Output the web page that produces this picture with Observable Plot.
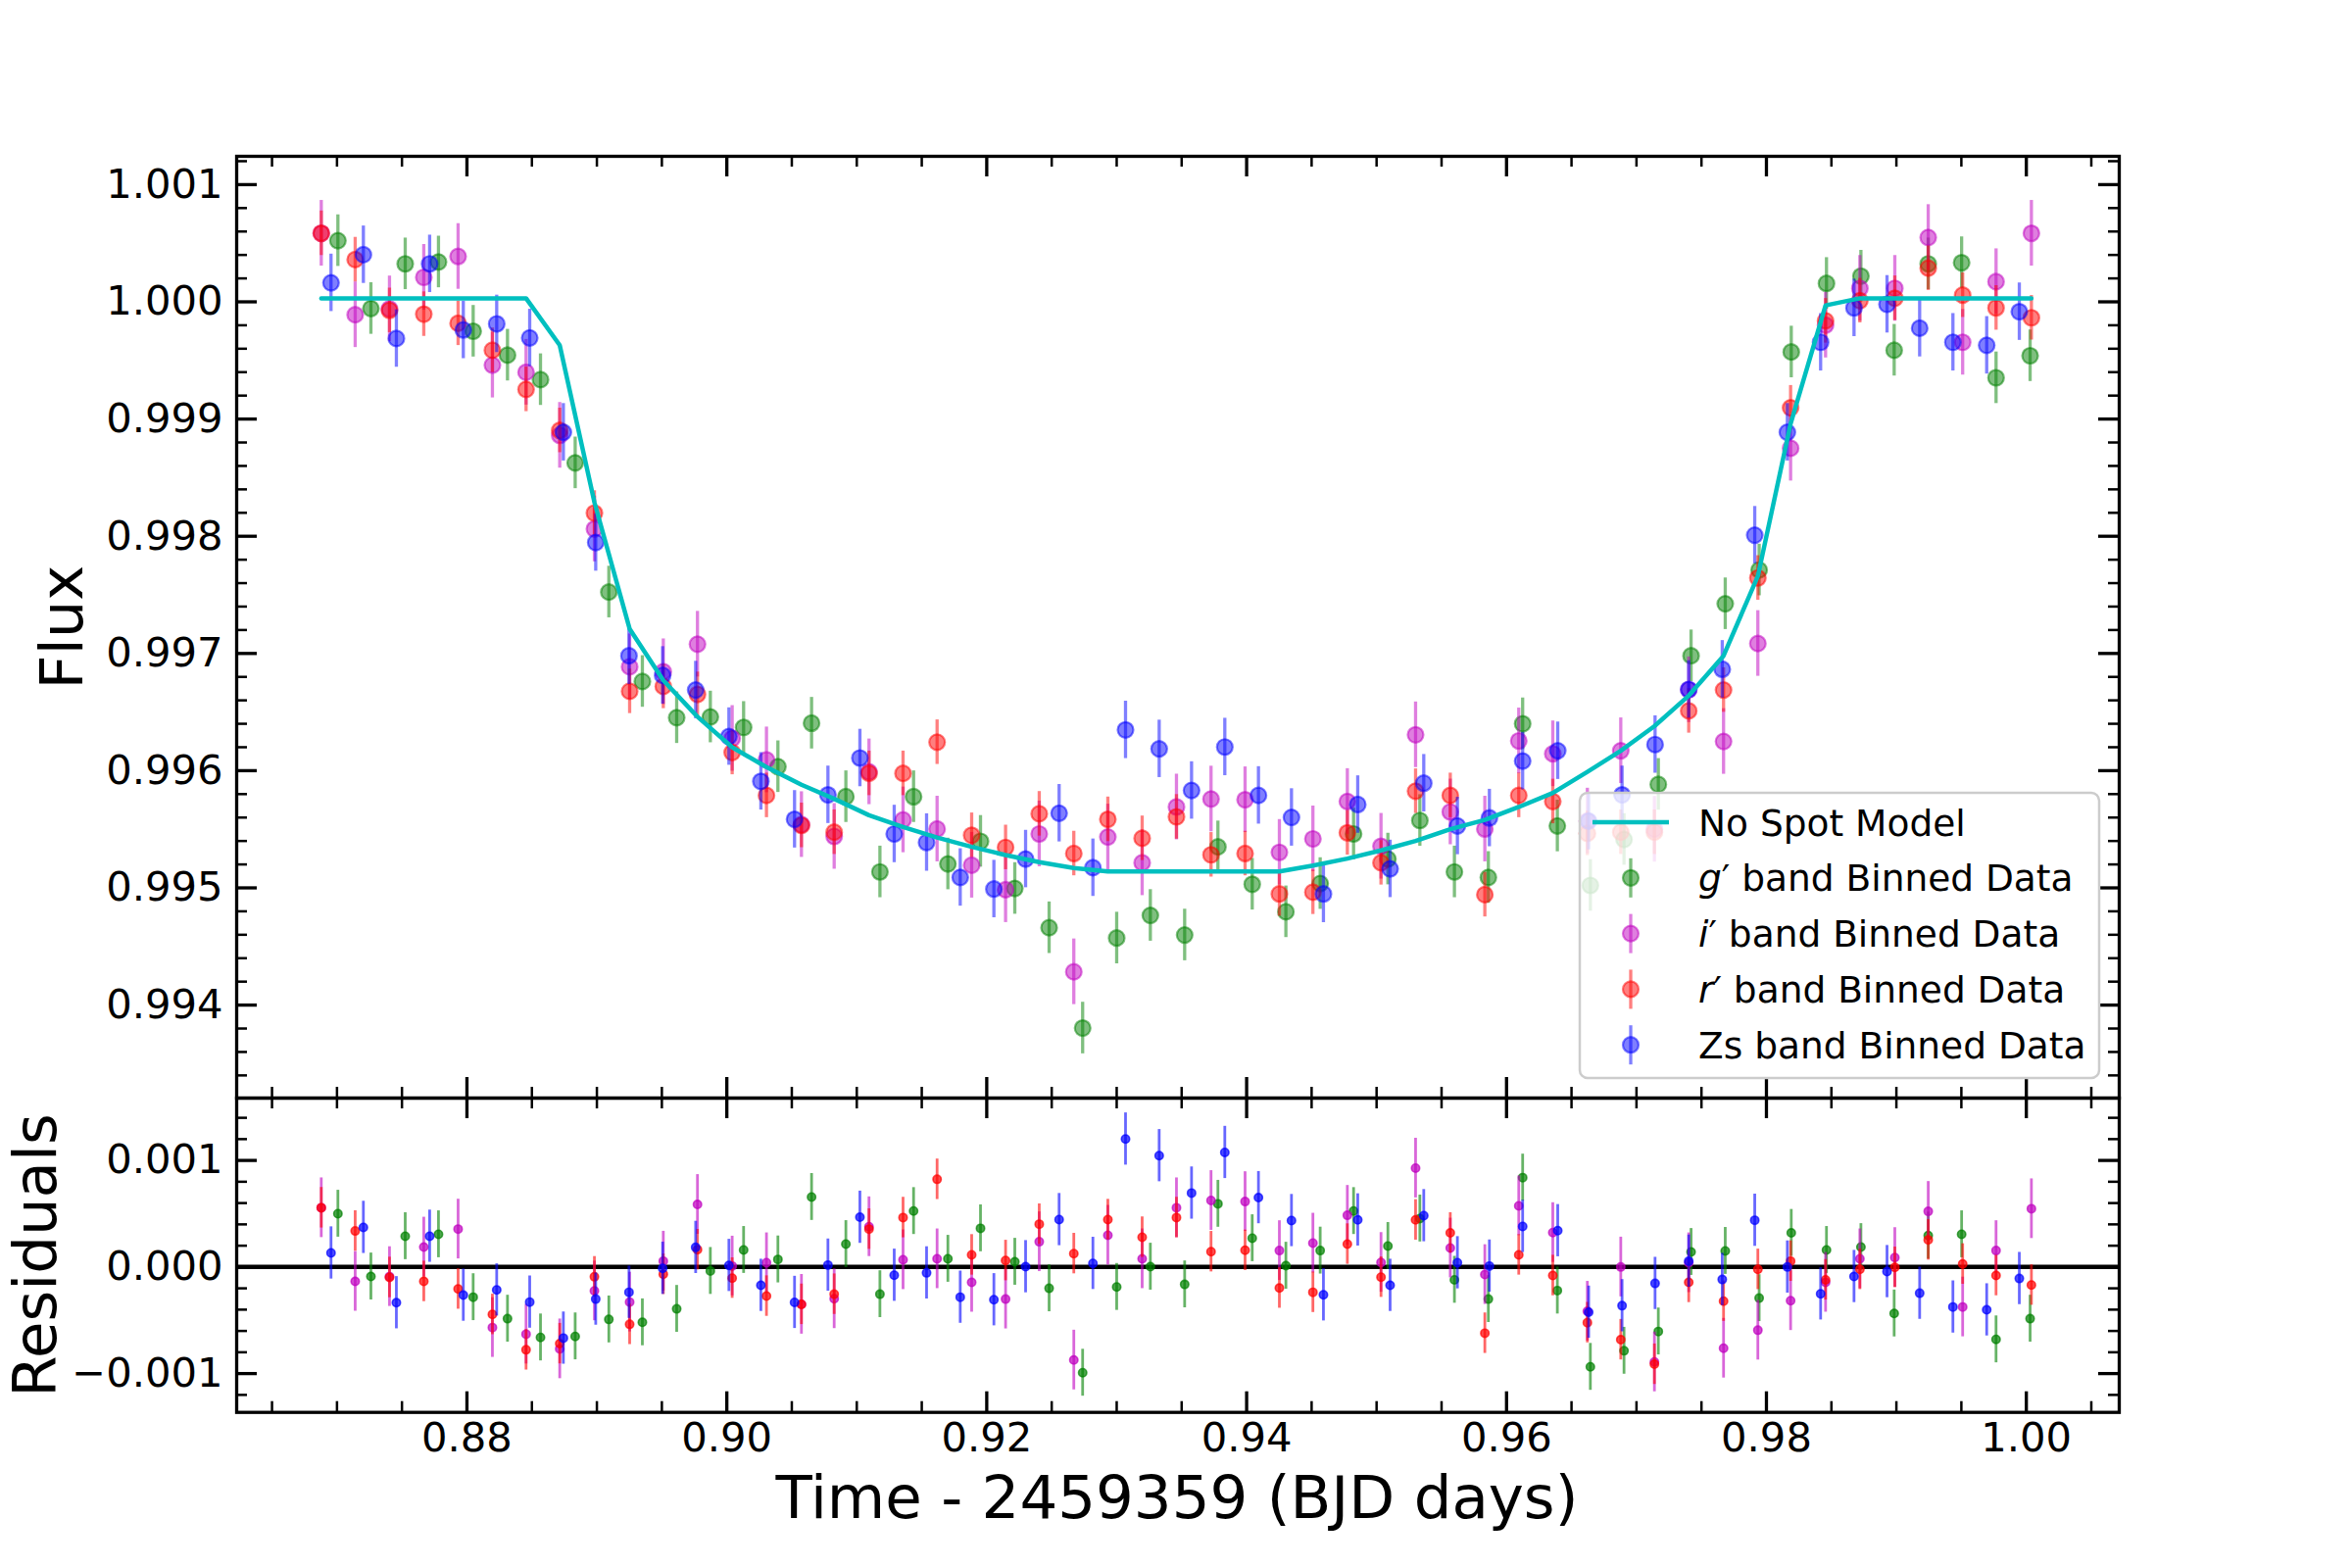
<!DOCTYPE html>
<html>
<head>
<meta charset="utf-8">
<script src="https://cdn.jsdelivr.net/npm/d3@7"></script>
<script src="https://cdn.jsdelivr.net/npm/@observablehq/plot@0.6"></script>
<style>
  html, body { margin: 0; padding: 0; background: #fff; }
  #fig { position: relative; width: 2400px; height: 1600px; background: #fff; font-family: "DejaVu Sans", sans-serif; }
  #fig svg { position: absolute; left: 0; overflow: visible; }
</style>
</head>
<body>
<div id="fig"></div>
<script>
// ---------------- DATA ----------------
const bandNames = ["g", "i", "r", "Zs"];
const bandColors = ["#008000", "#bf00bf", "#ff0000", "#0000ff"];
const bandErr = [0.00022, 0.00028, 0.00019, 0.000245];

// red (r') and magenta (i') share the same time bins
const timeRI = [0.86879, 0.87140, 0.87404, 0.87668, 0.87932, 0.88196, 0.88455, 0.88714, 0.88981, 0.89252,
  0.89511, 0.89774, 0.90041, 0.90305, 0.90574, 0.90826, 0.91094, 0.91356, 0.91618, 0.91884,
  0.92145, 0.92404, 0.92670, 0.92932, 0.93196, 0.93460, 0.93726, 0.93988, 0.94252, 0.94510,
  0.94775, 0.95034, 0.95300, 0.95567, 0.95833, 0.96094, 0.96356, 0.96622, 0.96879, 0.97138,
  0.97402, 0.97670, 0.97934, 0.98186, 0.98455, 0.98719, 0.98988, 0.99245, 0.99510, 0.99767, 1.00039];

const timeG = [0.87007, 0.87261, 0.87525, 0.87781, 0.88048, 0.88312, 0.88566, 0.88833, 0.89092, 0.89350,
  0.89614, 0.89873, 0.90129, 0.90393, 0.90652, 0.90916, 0.91178, 0.91437, 0.91701, 0.91952,
  0.92216, 0.92480, 0.92738, 0.93000, 0.93259, 0.93523, 0.93779, 0.94043, 0.94302, 0.94566,
  0.94823, 0.95087, 0.95333, 0.95599, 0.95860, 0.96124, 0.96391, 0.96645, 0.96904, 0.97168,
  0.97420, 0.97683, 0.97944, 0.98191, 0.98462, 0.98727, 0.98983, 0.99245, 0.99502, 0.99767, 1.00029];

const timeZ = [0.86954, 0.87203, 0.87457, 0.87713, 0.87972, 0.88229, 0.88483, 0.88742, 0.88991, 0.89247,
  0.89506, 0.89760, 0.90016, 0.90262, 0.90521, 0.90778, 0.91024, 0.91288, 0.91537, 0.91796,
  0.92055, 0.92299, 0.92557, 0.92817, 0.93068, 0.93327, 0.93576, 0.93832, 0.94091, 0.94345,
  0.94591, 0.94855, 0.95104, 0.95363, 0.95622, 0.95868, 0.96124, 0.96394, 0.96632, 0.96889,
  0.97143, 0.97402, 0.97660, 0.97910, 0.98161, 0.98417, 0.98674, 0.98928, 0.99179, 0.99435,
  0.99695, 0.99946];

const fluxG = [1.000522, 0.999943, 1.000324, 1.000340, 0.999749, 0.999545, 0.999336, 0.998626, 0.997524, 0.996761,
  0.996452, 0.996458, 0.996369, 0.996034, 0.996405, 0.995778, 0.995136, 0.995778, 0.995204, 0.995397,
  0.994995, 0.994660, 0.993804, 0.994572, 0.994765, 0.994598, 0.995350, 0.995031, 0.994796, 0.995037,
  0.995460, 0.995246, 0.995575, 0.995136, 0.995089, 0.996400, 0.995528, 0.995021, 0.995413, 0.995883,
  0.996980, 0.997424, 0.997712, 0.999572, 1.000157, 1.000219, 0.999587, 1.000324, 1.000334, 0.999352, 0.999540];

const fluxI = [1.000585, 0.999890, 0.999940, 1.000209, 1.000387, 0.999460, 0.999399, 0.998861, 0.998062, 0.996886,
  0.996844, 0.997079, 0.996275, 0.996092, 0.995540, 0.995439, 0.995990, 0.995580, 0.995502, 0.995193,
  0.994984, 0.995460, 0.994284, 0.995434, 0.995214, 0.995690, 0.995758, 0.995752, 0.995303, 0.995418,
  0.995737, 0.995355, 0.996306, 0.995648, 0.995502, 0.996254, 0.996144, 0.995570, 0.996170, 0.995500,
  0.996690, 0.996249, 0.997085, 0.998751, 0.999801, 1.000115, 1.000115, 1.000549, 0.999655, 1.000172, 1.000585];

const fluxR = [1.000585, 1.000360, 0.999927, 0.999895, 0.999817, 0.999587, 0.999253, 0.998903, 0.998198, 0.996677,
  0.996719, 0.996651, 0.996155, 0.995789, 0.995533, 0.995475, 0.995977, 0.995977, 0.996243, 0.995449,
  0.995345, 0.995632, 0.995293, 0.995585, 0.995423, 0.995606, 0.995282, 0.995293, 0.994948, 0.994963,
  0.995470, 0.995214, 0.995825, 0.995789, 0.994942, 0.995789, 0.995737, 0.995465, 0.995475, 0.995475,
  0.996510, 0.996688, 0.997644, 0.999096, 0.999838, 1.000010, 1.000031, 1.000287, 1.000057, 0.999948, 0.999864];

const fluxZ = [1.000162, 1.000402, 0.999687, 1.000324, 0.999760, 0.999812, 0.999692, 0.998887, 0.997947, 0.996980,
  0.996813, 0.996688, 0.996291, 0.995909, 0.995585, 0.995794, 0.996108, 0.995460, 0.995387, 0.995089,
  0.994990, 0.995246, 0.995637, 0.995172, 0.996348, 0.996186, 0.995831, 0.996202, 0.995789, 0.995601,
  0.994948, 0.995711, 0.995162, 0.995893, 0.995528, 0.995596, 0.996082, 0.996170, 0.995570, 0.995794,
  0.996223, 0.996693, 0.996865, 0.998009, 0.998887, 0.999655, 0.999948, 0.999979, 0.999775, 0.999655,
  0.999629, 0.999916];

// residuals, in units of 1e-3
const resG_ppt = [0.500, -0.089, 0.289, 0.307, -0.283, -0.485, -0.661, -0.651, -0.492, -0.519,
  -0.393, -0.037, 0.160, 0.071, 0.657, 0.215, -0.255, 0.525, 0.077, 0.363,
  0.049, -0.200, -0.992, -0.187, 0.003, -0.163, 0.593, 0.270, 0.012, 0.154,
  0.525, 0.197, 0.455, -0.120, -0.301, 0.839, -0.221, -0.937, -0.786, -0.605,
  0.141, 0.151, -0.292, 0.320, 0.160, 0.187, -0.436, 0.295, 0.307, -0.679, -0.485];

const resI_ppt = [0.556, -0.135, -0.090, 0.187, 0.356, -0.568, -0.630, -0.768, -0.224, -0.329,
  0.055, 0.587, 0.009, 0.040, -0.350, -0.298, 0.378, 0.068, 0.077, -0.144,
  -0.301, 0.237, -0.873, 0.298, 0.077, 0.556, 0.624, 0.614, 0.154, 0.224,
  0.485, 0.043, 0.928, 0.178, -0.071, 0.574, 0.323, -0.415, 0.000, -0.891,
  0.040, -0.762, -0.593, -0.316, -0.144, 0.077, 0.089, 0.522, -0.375, 0.154, 0.547];

const resR_ppt = [0.556, 0.338, -0.098, -0.135, -0.206, -0.445, -0.777, -0.719, -0.092, -0.538,
  -0.068, 0.163, -0.104, -0.273, -0.350, -0.255, 0.356, 0.464, 0.823, 0.114,
  0.061, 0.402, 0.126, 0.445, 0.280, 0.464, 0.144, 0.157, -0.197, -0.237,
  0.215, -0.095, 0.442, 0.320, -0.621, 0.114, -0.080, -0.522, -0.682, -0.912,
  -0.144, -0.320, -0.022, 0.055, -0.120, -0.022, -0.003, 0.255, 0.028, -0.080, -0.169];

const resZ_ppt = [0.132, 0.372, -0.335, 0.289, -0.264, -0.215, -0.329, -0.667, -0.301, -0.237,
  -0.012, 0.184, 0.015, -0.172, -0.332, 0.018, 0.467, -0.077, -0.055, -0.283,
  -0.307, 0.003, 0.445, 0.034, 1.201, 1.045, 0.694, 1.075, 0.651, 0.436,
  -0.261, 0.442, -0.172, 0.482, 0.040, 0.009, 0.381, 0.341, -0.424, -0.363,
  -0.154, 0.055, -0.117, 0.439, 0.000, -0.252, -0.089, -0.043, -0.246, -0.375,
  -0.402, -0.108];

// No Spot Model, sampled at the r'/i' bin times
const modelFlux = [1.00003, 1.00003, 1.00003, 1.00003, 1.00003, 1.00003, 1.00003, 0.99963, 0.99829, 0.99721,
  0.99677, 0.99646, 0.99620, 0.99603, 0.99588, 0.99576, 0.99562, 0.99552, 0.99543, 0.99535,
  0.99528, 0.99522, 0.99517, 0.99514, 0.99514, 0.99514, 0.99514, 0.99514, 0.99514, 0.99519,
  0.99525, 0.99532, 0.99540, 0.99550, 0.99558, 0.99569, 0.99581, 0.99599, 0.99617, 0.99638,
  0.99664, 0.99698, 0.99766, 0.99896, 0.99997, 1.00003, 1.00003, 1.00003, 1.00003, 1.00003, 1.00003];

// ticks
const xTicks = [0.88, 0.90, 0.92, 0.94, 0.96, 0.98, 1.00];
const fluxTicks = [0.994, 0.995, 0.996, 0.997, 0.998, 0.999, 1.000, 1.001];
const resTicks = [-0.001, 0.000, 0.001];

const legendLabels = ["No Spot Model", "band Binned Data"];

// ---------------- BUILD ----------------
const times = [timeG, timeRI, timeRI, timeZ];
const fluxes = [fluxG, fluxI, fluxR, fluxZ];
const resids = [resG_ppt, resI_ppt, resR_ppt, resZ_ppt];
const bandRows = times.map((ts, k) => ts.map((t, i) => ({t, f: fluxes[k][i], r: resids[k][i] * 1e-3})));
const modelRows = timeRI.map((t, i) => ({t, f: modelFlux[i]}));

const W = 2400, ML = 241, MR = 238;
const frameW = W - ML - MR;
const xDomain = [0.86228, 1.00715];
const topH = 1120, topMT = 159, topFrameH = topH - topMT;
const botH = 480, botMB = 159.3, botFrameH = botH - botMB;

const xMinor = d3.range(0.865, 1.0071, 0.005).filter(v => !xTicks.some(m => Math.abs(m - v) < 1e-6));
const fluxMinor = d3.range(0.9934, 1.00124, 0.0002).filter(v => !fluxTicks.some(m => Math.abs(m - v) < 1e-7));
const resMinor = d3.range(-0.0012, 0.00159, 0.0002).filter(v => !resTicks.some(m => Math.abs(m - v) < 1e-7));

const tickW = 3.3, minorW = 2.5, majL = 21, minL = 11;
function inwardTicks(frameH, yMaj, yMin) {
  return [
    Plot.tickX(xTicks, {x: d => d, insetBottom: frameH - majL, stroke: "black", strokeWidth: tickW}),
    Plot.tickX(xTicks, {x: d => d, insetTop: frameH - majL, stroke: "black", strokeWidth: tickW}),
    Plot.tickX(xMinor, {x: d => d, insetBottom: frameH - minL, stroke: "black", strokeWidth: minorW}),
    Plot.tickX(xMinor, {x: d => d, insetTop: frameH - minL, stroke: "black", strokeWidth: minorW}),
    Plot.tickY(yMaj, {y: d => d, insetRight: frameW - majL, stroke: "black", strokeWidth: tickW}),
    Plot.tickY(yMaj, {y: d => d, insetLeft: frameW - majL, stroke: "black", strokeWidth: tickW}),
    Plot.tickY(yMin, {y: d => d, insetRight: frameW - minL, stroke: "black", strokeWidth: minorW}),
    Plot.tickY(yMin, {y: d => d, insetLeft: frameW - minL, stroke: "black", strokeWidth: minorW})
  ];
}

const baseStyle = {background: "none", overflow: "visible", fontFamily: "DejaVu Sans", fontSize: "41.7px", color: "black"};

// top panel
const topMarks = [];
bandRows.forEach((rows, k) => {
  const c = bandColors[k], e = bandErr[k];
  topMarks.push(Plot.ruleX(rows, {x: "t", y1: d => d.f - e, y2: d => d.f + e, stroke: c, strokeOpacity: 0.5, strokeWidth: 3.3}));
  topMarks.push(Plot.dot(rows, {x: "t", y: "f", r: 8, fill: c, fillOpacity: 0.5, stroke: c, strokeOpacity: 0.5, strokeWidth: 2.2}));
});
topMarks.push(Plot.line(modelRows, {x: "t", y: "f", stroke: "#00bfbf", strokeWidth: 4.5}));

const topPlot = Plot.plot({
  width: W, height: topH,
  marginTop: topMT, marginBottom: 0, marginLeft: ML, marginRight: MR,
  style: baseStyle,
  x: {domain: xDomain, axis: null},
  y: {domain: [0.9932065, 1.0012416]},
  marks: [
    ...topMarks,
    ...inwardTicks(topFrameH, fluxTicks, fluxMinor),
    Plot.axisY({ticks: fluxTicks, anchor: "left", tickSize: 0, tickPadding: 14, tickFormat: d3.format(".3f"), fontSize: 41.7, label: null}),
    Plot.frame({stroke: "black", strokeWidth: 3.3})
  ]
});
topPlot.style.top = "0px";

// bottom panel
const botMarks = [Plot.ruleY([0], {stroke: "black", strokeWidth: 4.5})];
bandRows.forEach((rows, k) => {
  const c = bandColors[k], e = bandErr[k];
  botMarks.push(Plot.ruleX(rows, {x: "t", y1: d => d.r - e, y2: d => d.r + e, stroke: c, strokeOpacity: 0.6, strokeWidth: 2.8}));
  botMarks.push(Plot.dot(rows, {x: "t", y: "r", r: 4.2, fill: c, fillOpacity: 0.7, stroke: c, strokeOpacity: 0.7, strokeWidth: 1.6}));
});

const botPlot = Plot.plot({
  width: W, height: botH,
  marginTop: 0, marginBottom: botMB, marginLeft: ML, marginRight: MR,
  style: baseStyle,
  x: {domain: xDomain},
  y: {domain: [-0.001364, 0.001585]},
  marks: [
    ...botMarks,
    ...inwardTicks(botFrameH, resTicks, resMinor),
    Plot.axisY({ticks: resTicks, anchor: "left", tickSize: 0, tickPadding: 14, tickFormat: d3.format(".3f"), fontSize: 41.7, label: null}),
    Plot.axisX({ticks: xTicks, anchor: "bottom", tickSize: 0, tickPadding: 9.7, tickFormat: d3.format(".2f"), fontSize: 41.7, label: null}),
    Plot.frame({stroke: "black", strokeWidth: 3.3})
  ]
});
botPlot.style.top = "1120px";

const fig = document.getElementById("fig");
fig.appendChild(topPlot);
fig.appendChild(botPlot);

// axis titles
const ts = d3.select(topPlot);
ts.append("text").attr("transform", "translate(84,640) rotate(-90)")
  .attr("text-anchor", "middle").attr("font-size", 61).attr("font-family", "DejaVu Sans").attr("fill", "black").text("Flux");
const bs = d3.select(botPlot);
bs.append("text").attr("transform", "translate(57,161) rotate(-90)")
  .attr("text-anchor", "middle").attr("font-size", 61).attr("font-family", "DejaVu Sans").attr("fill", "black").text("Residuals");
bs.append("text").attr("x", 1201).attr("y", 429)
  .attr("text-anchor", "middle").attr("font-size", 61).attr("font-family", "DejaVu Sans").attr("fill", "black").text("Time - 2459359 (BJD days)");

// legend
const lg = ts.append("g").attr("font-family", "DejaVu Sans").attr("font-size", 37.5).attr("text-anchor", "start").attr("fill", "black");
lg.append("rect").attr("x", 1612).attr("y", 809).attr("width", 530).attr("height", 291).attr("rx", 8)
  .attr("fill", "white").attr("fill-opacity", 0.8).attr("stroke", "#cccccc").attr("stroke-width", 2.5);
const rowY = i => 839 + i * 56.8;
lg.append("line").attr("x1", 1625).attr("x2", 1703).attr("y1", rowY(0)).attr("y2", rowY(0))
  .attr("stroke", "#00bfbf").attr("stroke-width", 4.5);
lg.append("text").attr("x", 1733).attr("y", rowY(0)).attr("dy", "0.36em").attr("text-anchor", "start").text(legendLabels[0]);
bandNames.forEach((b, k) => {
  const y = rowY(k + 1), c = bandColors[k];
  lg.append("line").attr("x1", 1664).attr("x2", 1664).attr("y1", y - 20).attr("y2", y + 20)
    .attr("stroke", c).attr("stroke-opacity", 0.5).attr("stroke-width", 3.3);
  lg.append("circle").attr("cx", 1664).attr("cy", y).attr("r", 8)
    .attr("fill", c).attr("fill-opacity", 0.5).attr("stroke", c).attr("stroke-opacity", 0.5).attr("stroke-width", 2.2);
  const t = lg.append("text").attr("x", 1733).attr("y", y).attr("dy", "0.36em").attr("text-anchor", "start");
  if (b === "Zs") {
    t.text("Zs " + legendLabels[1]);
  } else {
    t.append("tspan").attr("font-style", "italic").text(b);
    t.append("tspan").text("\u2032 " + legendLabels[1]);
  }
});
</script>
</body>
</html>
